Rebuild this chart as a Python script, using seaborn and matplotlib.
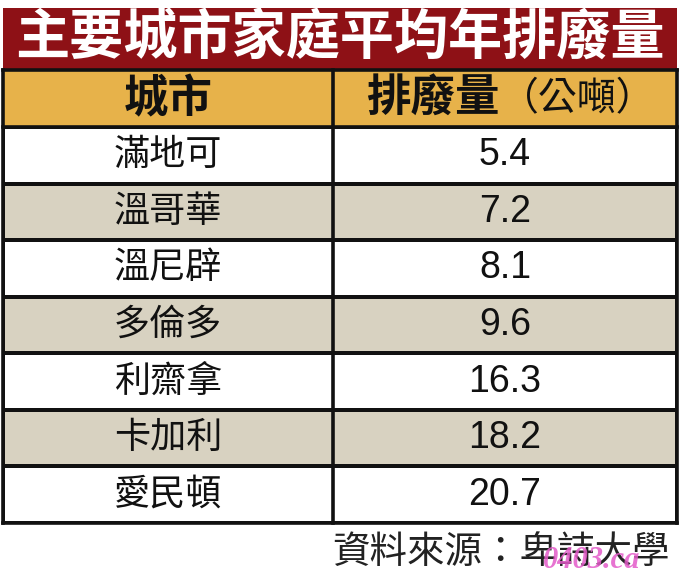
import numpy as np
import matplotlib
matplotlib.use("Agg")
import matplotlib.pyplot as plt
from matplotlib.colors import ListedColormap
from matplotlib.patches import Rectangle
import seaborn as sns

# data
title = "主要城市家庭平均年排廢量"
col_headers = ["城市", "排廢量", "（公噸）"]
cities = ["滿地可", "溫哥華", "溫尼辟", "多倫多", "利齋拿", "卡加利", "愛民頓"]
values = [5.4, 7.2, 8.1, 9.6, 16.3, 18.2, 20.7]
source = "資料來源：卑詩大學"
watermark = "0403.ca"

sns.set_theme(style="white")
plt.rcParams['font.family'] = ['Noto Sans CJK TC', 'DejaVu Sans']

RED = "#8e1116"
GOLD = "#e7b24a"
BEIGE = "#d8d2c1"
W, H = 680, 580
x0, x1, xdiv = 3, 677, 333
y_title, y_head, y_rows, y_end = 8, 70, 127, 523

fig = plt.figure(figsize=(W / 100, H / 100), dpi=100)
fig.patch.set_facecolor("white")

# striped rows with a seaborn heatmap
stripes = np.array([[i % 2] for i in range(len(cities))])
axh = fig.add_axes([x0 / W, 1 - y_end / H, (x1 - x0) / W, (y_end - y_rows) / H])
sns.heatmap(stripes, ax=axh, cmap=ListedColormap(["white", BEIGE]), cbar=False,
            xticklabels=False, yticklabels=False, linewidths=2.6, linecolor="#111111")
axh.set_xticks([]); axh.set_yticks([])

# overlay in pixel coordinates
ax = fig.add_axes([0, 0, 1, 1])
ax.set_xlim(0, W)
ax.set_ylim(H, 0)
ax.patch.set_alpha(0)
ax.axis("off")

ax.add_patch(Rectangle((x0, y_title), x1 - x0, y_head - y_title, fc=RED, ec="none"))
ax.add_patch(Rectangle((x0, y_head), x1 - x0, y_rows - y_head, fc=GOLD, ec="none"))

lw = 2.6
for y in [y_head, y_rows, y_end]:
    ax.plot([x0, x1], [y, y], color="#111111", lw=lw, solid_capstyle="projecting")
for x in [x0, xdiv, x1]:
    ax.plot([x, x], [y_head, y_end], color="#111111", lw=lw, solid_capstyle="projecting")

ax.text(340, 39, title, color="white", fontsize=39, fontweight="heavy",
        ha="center", va="center")

ax.text(168, 99, col_headers[0], fontsize=32, fontweight="bold", ha="center", va="center", color="#111111")
ax.text(500, 99, col_headers[1], fontsize=32, fontweight="bold", ha="right", va="center", color="#111111")
ax.text(500, 99, col_headers[2], fontsize=28, ha="left", va="center", color="#111111")

row_h = (y_end - y_rows) / len(cities)
for i, (c, v) in enumerate(zip(cities, values)):
    yc = y_rows + (i + 0.5) * row_h
    ax.text(168, yc, c, fontsize=26, ha="center", va="center", color="#111111")
    ax.text(505, yc, f"{v:.1f}", fontsize=27, ha="center", va="center", color="#111111",
            family=["Liberation Sans", "DejaVu Sans"])

ax.text(670, 552, source, fontsize=27, ha="right", va="center", color="#222222")
ax.text(592, 560, watermark, fontsize=22, ha="center", va="center", color="#e35bc9",
        alpha=0.85, fontweight="bold", style="italic", family=["Liberation Serif", "DejaVu Serif"])

fig.savefig("out.png", dpi=100)
